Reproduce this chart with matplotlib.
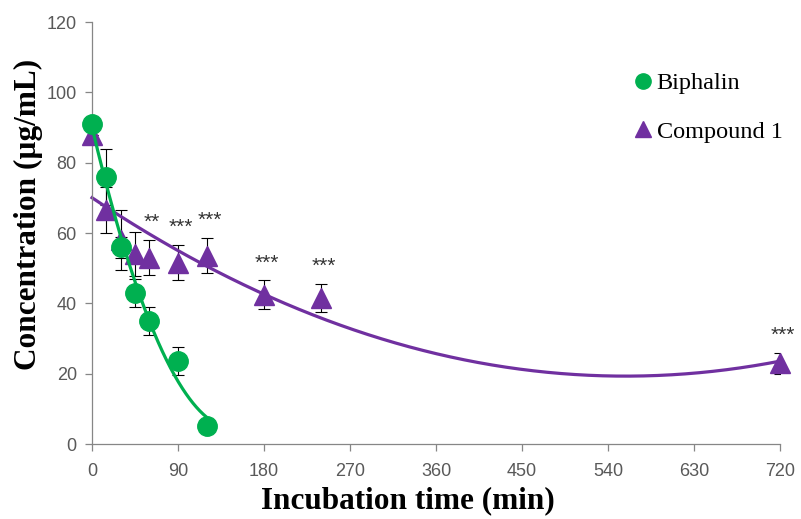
import numpy as np
import matplotlib.pyplot as plt

# Biphalin vs Compound 1: concentration over incubation time
time_biphalin = [0, 15, 30, 45, 60, 90, 120]
conc_biphalin = [91, 76, 56, 43, 35, 23.5, 5]
sd_biphalin = [0, 8, 3, 4, 4, 4, 0]

time_compound = [0, 15, 30, 45, 60, 90, 120, 180, 240, 720]
conc_compound = [88, 66.5, 58, 54, 53, 51.5, 53.5, 42.5, 41.5, 23]
sd_compound = [0, 6.6, 8.5, 6.2, 5, 5, 5, 4, 4, 3]
stars_compound = ["", "", "", "", "**", "***", "***", "***", "***", "***"]

legend_labels = ["Biphalin", "Compound 1"]
x_ticks = [0, 90, 180, 270, 360, 450, 540, 630, 720]
y_ticks = [0, 20, 40, 60, 80, 100, 120]

GREEN = "#00B050"
PURPLE = "#7030A0"
TICK_FONT = ["Liberation Sans Narrow", "Liberation Sans", "DejaVu Sans"]
SERIF = ["Liberation Serif", "DejaVu Serif"]


def main():
    fig = plt.figure(figsize=(8.01, 5.19), dpi=100)
    ax = fig.add_axes([0.1149, 0.1445, 0.8589, 0.8131])

    # polynomial (order 2) trendlines, as in the original spreadsheet chart
    xb = np.array(time_biphalin, dtype=float)
    xc = np.array(time_compound, dtype=float)
    fit_b = np.polyfit(xb, conc_biphalin, 2)
    fit_c = np.polyfit(xc, conc_compound, 2)
    xs_b = np.linspace(0, xb.max(), 200)
    xs_c = np.linspace(0, xc.max(), 400)
    ax.plot(xs_c, np.polyval(fit_c, xs_c), color=PURPLE, lw=2.3, zorder=2,
            clip_on=False)
    ax.plot(xs_b, np.polyval(fit_b, xs_b), color=GREEN, lw=2.3, zorder=4,
            clip_on=False)

    ax.errorbar(time_compound, conc_compound, yerr=sd_compound, fmt="none",
                ecolor="black", elinewidth=0.8, capsize=4, capthick=0.8,
                zorder=1)
    ax.errorbar(time_biphalin, conc_biphalin, yerr=sd_biphalin, fmt="none",
                ecolor="black", elinewidth=0.8, capsize=4, capthick=0.8,
                zorder=1)

    ax.plot(time_compound, conc_compound, ls="none", marker="^", ms=15,
            color=PURPLE, mec=PURPLE, zorder=3, clip_on=False)
    ax.plot(time_biphalin, conc_biphalin, ls="none", marker="o", ms=14,
            color=GREEN, mec=GREEN, zorder=5, clip_on=False)

    for t, c, s, label in zip(time_compound, conc_compound, sd_compound,
                              stars_compound):
        if label:
            ax.text(t + 3, c + s + 5.0, label, ha="center", va="center",
                    fontsize=15, color="#333333", family=TICK_FONT)

    ax.set_xlim(0, 720)
    ax.set_ylim(0, 120)
    ax.set_xticks(x_ticks)
    ax.set_yticks(y_ticks)
    for side in ["top", "right"]:
        ax.spines[side].set_visible(False)
    for side in ["left", "bottom"]:
        ax.spines[side].set_color("#868686")
        ax.spines[side].set_linewidth(0.9)
    ax.tick_params(axis="both", direction="out", length=5, width=0.9,
                   color="#868686", labelcolor="#595959", labelsize=13)
    for lab in ax.get_xticklabels() + ax.get_yticklabels():
        lab.set_family(TICK_FONT)
    ax.tick_params(axis="x", pad=9)
    ax.tick_params(axis="y", pad=6)

    ax.set_xlabel("Incubation time (min)", fontsize=22.5, fontweight="bold",
                  family=SERIF)
    ax.xaxis.set_label_coords(0.459, -0.101)
    ax.set_ylabel("Concentration (µg/mL)", fontsize=22.5, fontweight="bold",
                  family=SERIF)
    ax.yaxis.set_label_coords(-0.072, 0.543)

    handles = [
        plt.Line2D([], [], ls="none", marker="o", ms=11, color=GREEN),
        plt.Line2D([], [], ls="none", marker="^", ms=11, color=PURPLE),
    ]
    ax.legend(handles, legend_labels, loc="upper left",
              bbox_to_anchor=(0.794, 0.861), bbox_transform=fig.transFigure,
              frameon=False, handlelength=0.6, handletextpad=0.25,
              labelspacing=1.1, borderaxespad=0, borderpad=0,
              prop={"family": SERIF, "size": 17.5})

    fig.savefig("out.png", dpi=100)


if __name__ == "__main__":
    main()
